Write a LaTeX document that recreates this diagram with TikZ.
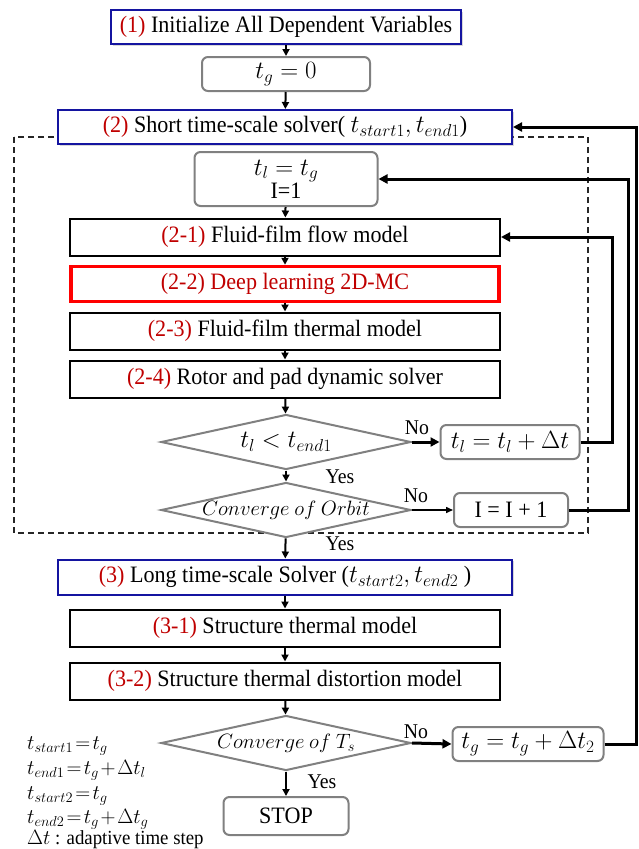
\documentclass[tikz,border=0pt]{standalone}
\usepackage{fontspec}
\setmainfont{Liberation Serif}[FakeStretch=0.94]
\usetikzlibrary{shapes.geometric,arrows.meta,shadows}
\definecolor{rd}{RGB}{192,0,0}
\definecolor{brd}{RGB}{255,0,0}
\definecolor{bl}{RGB}{20,20,160}
\definecolor{gr}{RGB}{128,128,128}
\newcommand{\ctr}[1]{\makebox[0pt]{#1}}
\newcommand{\nmath}[1]{$\thickmuskip=2mu\relax\medmuskip=1.5mu\relax #1$}
\begin{document}
\begin{tikzpicture}[x=1pt,y=-1pt,
  every node/.style={font=\fontsize{23.5}{26}\selectfont, inner sep=0pt},
  bluebox/.style={draw=bl, line width=2pt, fill=white, drop shadow={shadow xshift=1.5pt, shadow yshift=-1.5pt, opacity=0.3}},
  blackbox/.style={draw=black, line width=2pt, fill=white, minimum width=430pt, minimum height=37pt},
  redbox/.style={draw=brd, line width=3.5pt, fill=white, minimum width=428pt, minimum height=35pt, text=rd},
  graybox/.style={draw=gr, line width=2pt, rounded corners=6pt, fill=white},
  decision/.style={diamond, draw=gr, line width=2pt, fill=white, aspect=4.5, minimum width=250pt, minimum height=55pt},
  arr/.style={line width=2pt, -{Triangle[length=7pt,width=7pt]}},
  thickarr/.style={line width=3pt, -{Triangle[length=9pt,width=9pt]}},
  thinarr/.style={line width=1.5pt, -{Triangle[length=7pt,width=6pt]}},
  lbl/.style={font=\fontsize{21}{24}\selectfont},
  note/.style={font=\fontsize{20}{24}\selectfont, anchor=west}
]
\useasboundingbox (0,0) rectangle (638,849);
\fill[white] (0,0) rectangle (638,849);
\draw[line width=1.8pt, dash pattern=on 6pt off 4pt, black!85] (14,137) rectangle (588,533);

\node[bluebox, minimum width=350pt, minimum height=34pt] (b1) at (286,27) {{\color{rd}(1)} Initialize All Dependent Variables};
\node[graybox, minimum width=168pt, minimum height=34pt] (tg0) at (286,74) {$t_g = 0$};
\node[bluebox, minimum width=454pt, minimum height=34pt] (b2) at (285,127) {{\color{rd}(2)} Short time-scale solver( $t_{start1}, t_{end1}$)};
\node[graybox, minimum width=183pt, minimum height=54pt, align=center] (tl) at (286,179) {$t_l = t_g$\\[-3pt]I=1};
\node[blackbox] (m21) at (285,237) {{\color{rd}(2-1)} Fluid-film flow model};
\node[redbox] (m22) at (285,284) {(2-2) Deep learning 2D-MC};
\node[blackbox] (m23) at (285,331) {{\color{rd}(2-3)} Fluid-film thermal model};
\node[blackbox] (m24) at (285,379) {{\color{rd}(2-4)} Rotor and pad dynamic solver};
\node[decision, font=\fontsize{23}{26}\selectfont] (d1) at (286,442) {\ctr{$t_l < t_{end1}$}};
\node[graybox, minimum width=139pt, minimum height=34pt] (tlinc) at (510,442) {$t_l = t_l + \Delta t$};
\node[decision, font=\fontsize{20}{24}\selectfont] (d2) at (286,510) {\ctr{$Converge\ of\ Orbit$}};
\node[graybox, minimum width=114pt, minimum height=34pt] (iinc) at (511,510) {I = I + 1};
\node[bluebox, minimum width=454pt, minimum height=35pt] (b3) at (285,577) {{\color{rd}(3)} Long time-scale Solver ($t_{start2}, t_{end2}$ )};
\node[blackbox] (m31) at (285,628) {{\color{rd}(3-1)} Structure thermal model};
\node[blackbox] (m32) at (285,681) {{\color{rd}(3-2)} Structure thermal distortion model};
\node[decision, font=\fontsize{20}{24}\selectfont] (d3) at (286,743) {\ctr{$Converge\ of\ T_s$}};
\node[graybox, minimum width=151pt, minimum height=34pt] (tginc) at (528,744) {$t_g = t_g + \Delta t_2$};
\node[graybox, minimum width=125pt, minimum height=38pt] (stop) at (286,816) {STOP};

\node[lbl] (no1) at (417,428) {No};
\node[lbl] (yes1) at (340,477) {Yes};
\node[lbl] (no2) at (416,496) {No};
\node[lbl] (yes2) at (340,544) {Yes};
\node[lbl] (no3) at (416,732) {No};
\node[lbl] (yes3) at (322,782) {Yes};

\node[note] (n1) at (27,746) {\nmath{t_{start1} = t_g}};
\node[note] (n2) at (27,770) {\nmath{t_{end1} = t_g + \Delta t_l}};
\node[note] (n3) at (27,796) {\nmath{t_{start2} = t_g}};
\node[note] (n4) at (27,819) {\nmath{t_{end2} = t_g + \Delta t_g}};
\node[note] (n5) at (27,840) {$\Delta t$ : adaptive time step};

\coordinate (r1) at (612,0);
\coordinate (r2) at (628,0);
\coordinate (r3) at (636,0);

\draw[arr] (b1) -- (tg0);
\draw[arr] (tg0) -- (b2);
\draw[arr] (tl) -- (m21);
\draw[arr] (m21) -- (m22);
\draw[arr] (m22) -- (m23);
\draw[arr] (m23) -- (m24);
\draw[arr] (m24) -- (d1);
\draw[arr] (d1) -- (d2);
\draw[arr] (d2) -- (b3);
\draw[arr] (b3) -- (m31);
\draw[arr] (m31) -- (m32);
\draw[arr] (m32) -- (d3);
\draw[arr] (d3) -- (stop);
\draw[thickarr] (d1.east) -- (tlinc.west);
\draw[thinarr] (d2.east) -- (iinc.west);
\draw[thickarr] (d3.east) -- (tginc.west);
\draw[thickarr] (tlinc.east) -| (r1 |- m21.east) -- (m21.east);
\draw[thickarr] (iinc.east) -| (r2 |- tl.east) -- (tl.east);
\draw[thickarr] (tginc.east) -| (r3 |- b2.east) -- (b2.east);
\end{tikzpicture}
\end{document}
